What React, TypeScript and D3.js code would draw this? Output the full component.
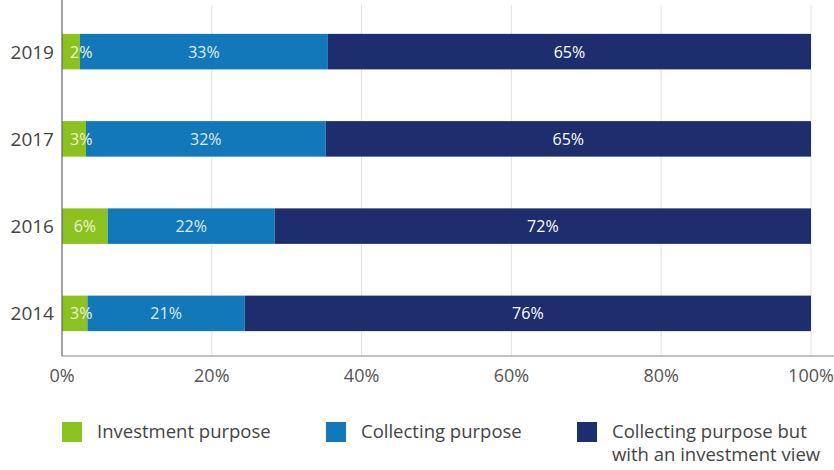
import React from "react";
import * as d3 from "d3";

const years = ["2019", "2017", "2016", "2014"];
const investment = [2.4, 3.2, 6.1, 3.4];
const collecting = [33.1, 32.0, 22.3, 21.0];
const collectingInvest = [64.5, 64.8, 71.6, 75.6];
const seriesNames = ["Investment purpose", "Collecting purpose", "Collecting purpose but|with an investment view"];
const seriesColors = ["#8cc21f", "#1378b9", "#1d2d6d"];
const labelColors = ["#eef4d2", "#dcecf8", "#ffffff"];
const xTicks = [0, 20, 40, 60, 80, 100];

const W = 834, H = 470;
const FONT = "'Open Sans', 'Noto Sans', sans-serif";

export default function App() {
  const x = d3.scaleLinear().domain([0, 100]).range([62, 811]);
  const y = d3.scaleBand<string>().domain(years).range([8, 357]).paddingInner(0.593).paddingOuter(0.2965);
  const axisY = 356;

  const stackData = years.map((yr, i) => ({ year: yr, a: investment[i], b: collecting[i], c: collectingInvest[i] }));
  const stack = d3.stack<any>().keys(["a", "b", "c"]);
  const series = stack(stackData);

  const legendX = [62, 326, 577];
  const bw = y.bandwidth();

  return (
    <svg width={W} height={H} style={{ position: "absolute", left: 0, top: 0, background: "#fff" }} fontFamily={FONT}>
      {xTicks.slice(1).map(t => (
        <line key={t} x1={x(t)} x2={x(t)} y1={5} y2={axisY} stroke="#e2e2e2" strokeWidth={1} />
      ))}
      {series.map((s, si) => (
        <g key={"r" + si}>
          {s.map((d, di) => (
            <rect key={di} x={x(d[0])} y={y(years[di])!} width={x(d[1]) - x(d[0])} height={bw} fill={seriesColors[si]} />
          ))}
        </g>
      ))}
      {series.map((s, si) => (
        <g key={"t" + si}>
          {s.map((d, di) => {
            const x0 = x(d[0]), x1 = x(d[1]);
            const label = Math.round(d[1] - d[0]) + "%";
            const narrow = x1 - x0 < 30;
            return (
              <text key={di}
                x={narrow ? x0 + 8 : (x0 + x1) / 2}
                y={y(years[di])! + bw / 2 + 6}
                textAnchor={narrow ? "start" : "middle"}
                fontSize={16}
                fill={labelColors[si]}
              >{label}</text>
            );
          })}
        </g>
      ))}
      <line x1={62} x2={62} y1={0} y2={axisY} stroke="#666" strokeWidth={1.2} />
      <line x1={62} x2={834} y1={axisY} y2={axisY} stroke="#888" strokeWidth={1.2} />
      {years.map(yr => (
        <text key={yr} x={54} y={y(yr)! + bw / 2 + 7} textAnchor="end" fontSize={19} fill="#444">{yr}</text>
      ))}
      {xTicks.map(t => (
        <text key={t} x={x(t)} y={382} textAnchor="middle" fontSize={18} fill="#555">{t + "%"}</text>
      ))}
      {seriesNames.map((n, i) => (
        <g key={i}>
          <rect x={legendX[i]} y={422} width={20} height={20} fill={seriesColors[i]} />
          {n.split("|").map((ln, li) => (
            <text key={li} x={legendX[i] + 35} y={438 + li * 22.5} fontSize={18.5} fill="#444">{ln}</text>
          ))}
        </g>
      ))}
    </svg>
  );
}
